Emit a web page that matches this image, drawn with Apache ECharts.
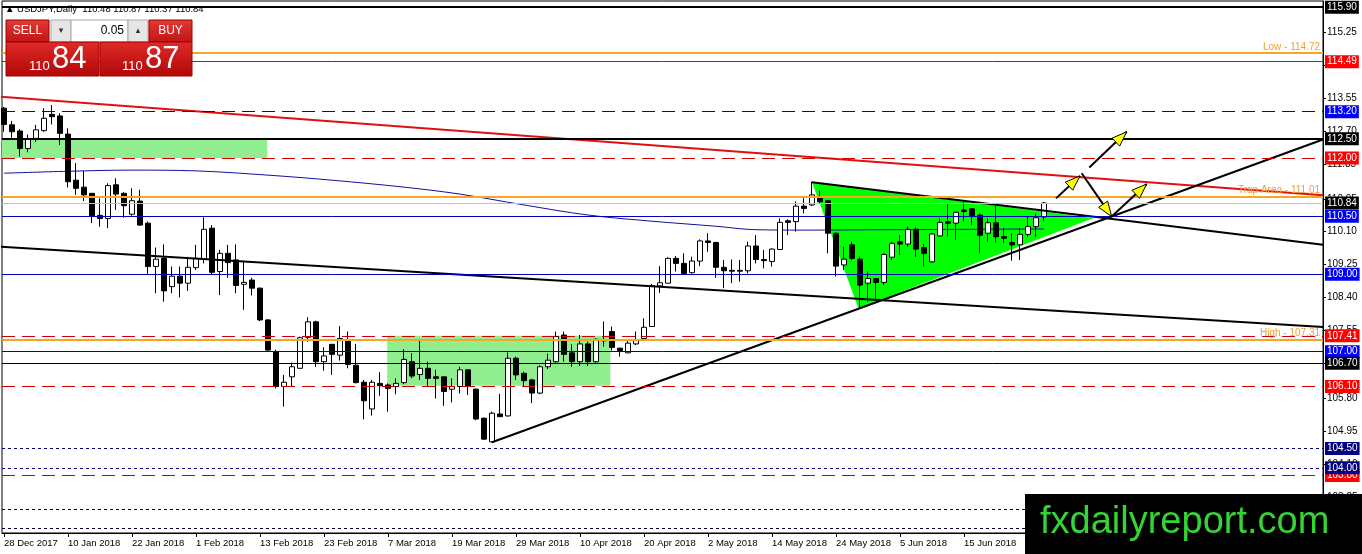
<!DOCTYPE html>
<html><head><meta charset="utf-8">
<script src="https://cdn.jsdelivr.net/npm/echarts@6/dist/echarts.min.js"></script>
<style>html,body{margin:0;padding:0;background:#fff;}#c{width:1362px;height:554px;}</style>
</head><body><div id="c"></div>
<script>
// ---------- DATA ----------
const dateLabels = ['28 Dec 2017','10 Jan 2018','22 Jan 2018','1 Feb 2018','13 Feb 2018','23 Feb 2018','7 Mar 2018','19 Mar 2018','29 Mar 2018','10 Apr 2018','20 Apr 2018','2 May 2018','14 May 2018','24 May 2018','5 Jun 2018','15 Jun 2018'];
const dateLabelBars = [0,8,16,24,32,40,48,56,64,72,80,88,96,104,112,120];
const priceTicks = [115.25,114.40,113.55,112.70,111.85,110.95,110.10,109.25,108.40,107.55,106.70,105.80,104.95,104.10,103.25];

const opens  = [113.29,112.86,112.70,112.25,112.51,112.71,113.13,113.09,112.62,111.43,111.25,111.09,110.52,110.44,111.31,111.09,110.55,110.89,110.32,109.20,109.41,108.68,108.95,108.77,109.17,109.39,110.19,109.07,109.54,109.37,108.74,108.85,108.64,107.82,107.00,106.10,106.35,106.57,107.37,107.77,106.74,107.19,106.91,107.30,106.65,106.21,105.52,106.18,106.14,106.10,106.20,106.74,106.41,106.57,106.35,106.35,106.03,106.10,106.53,106.03,105.28,104.67,105.39,105.34,106.83,106.44,106.27,105.93,106.61,106.74,107.43,106.97,106.74,107.20,106.74,107.30,107.52,107.09,106.97,107.20,107.34,107.65,108.70,108.77,109.41,109.28,109.04,109.34,109.86,109.82,109.18,109.10,109.10,109.09,109.73,109.38,109.33,109.64,110.38,110.36,110.76,110.79,110.99,110.90,110.06,109.24,109.76,109.39,108.77,108.89,108.79,109.44,109.84,109.78,110.16,109.69,109.32,109.99,110.36,110.32,110.66,110.69,110.53,110.06,110.33,109.97,109.82,109.76,110.03,110.23,110.48];
const highs  = [113.32,112.96,112.75,112.61,112.86,113.29,113.37,113.16,112.77,111.87,111.67,111.09,110.96,111.35,111.48,111.12,111.22,111.18,110.36,109.69,109.77,109.20,109.20,109.45,109.76,110.47,110.27,109.63,109.76,109.77,109.33,108.91,108.66,107.84,107.05,106.40,106.72,107.39,107.89,107.80,107.11,107.19,107.66,107.52,107.20,106.27,106.27,106.47,106.18,106.31,107.06,106.96,107.30,106.74,106.53,106.35,106.31,106.61,106.54,106.05,105.30,105.45,105.91,106.98,106.87,106.48,106.30,106.65,106.95,107.52,107.52,107.19,107.43,107.26,107.34,107.78,107.65,107.10,107.32,107.52,107.86,108.75,109.21,109.44,109.47,109.54,109.45,109.90,110.06,109.84,109.37,109.38,109.37,109.84,110.01,109.63,109.67,110.44,110.42,110.88,111.00,111.39,111.16,110.90,110.08,109.71,109.84,109.45,109.07,108.90,109.54,109.84,110.01,110.23,110.21,109.78,110.06,110.44,110.83,110.62,110.87,110.69,110.57,110.44,110.76,110.19,110.06,110.19,110.49,110.57,110.87];
const lows   = [112.68,112.47,112.04,112.15,112.42,112.68,112.87,112.34,111.24,111.05,110.89,110.32,110.23,110.19,110.66,110.46,110.51,110.25,108.98,108.51,108.29,108.51,108.40,108.57,109.11,109.28,108.98,108.46,108.91,108.51,108.08,108.45,107.79,106.99,106.05,105.58,106.10,106.56,107.26,106.61,106.51,106.40,106.77,106.57,106.18,105.25,105.35,105.86,105.45,105.90,106.16,106.31,106.27,106.10,105.79,105.60,105.69,105.92,105.88,105.23,104.72,104.65,105.32,105.32,106.27,106.10,105.67,105.90,106.55,106.70,106.74,106.61,106.63,106.63,106.70,107.13,107.03,106.87,106.96,107.17,107.30,107.65,108.52,108.77,109.07,108.98,109.01,109.21,109.58,108.91,108.64,108.77,108.81,109.02,109.28,109.15,109.20,109.63,110.01,110.10,110.57,110.76,110.83,109.54,108.94,109.11,109.37,108.12,108.29,108.33,108.72,109.37,109.50,109.71,109.45,109.20,109.30,109.97,109.97,109.89,110.36,110.27,109.54,109.84,109.82,109.80,109.35,109.37,109.97,109.97,110.37];
const closes = [112.87,112.68,112.25,112.49,112.73,113.03,113.07,112.64,111.39,111.22,111.05,110.51,110.44,111.29,111.07,110.77,110.90,110.27,109.20,109.39,108.57,108.95,108.77,109.18,109.41,110.16,109.05,109.54,109.30,108.71,108.79,108.64,107.82,107.04,106.10,106.21,106.61,107.36,107.77,106.74,106.89,106.93,107.34,106.67,106.20,105.73,106.21,106.12,106.05,106.18,106.80,106.37,106.57,106.31,106.31,105.97,106.10,106.53,106.10,105.26,104.74,105.41,105.32,106.83,106.40,106.25,105.93,106.61,106.78,107.39,106.93,106.74,107.20,106.74,107.32,107.28,107.11,107.03,107.22,107.30,107.63,108.70,108.78,109.41,109.28,109.01,109.34,109.86,109.82,109.18,109.09,109.08,109.08,109.73,109.38,109.35,109.65,110.34,110.34,110.76,110.70,111.05,110.87,110.06,109.21,109.39,109.41,108.72,108.89,108.79,109.51,109.80,109.78,110.16,109.65,109.54,110.04,110.34,110.32,110.60,110.62,110.51,110.01,110.33,109.97,109.93,109.76,110.03,110.23,110.46,110.84];

const maBars   = [0,8,16,24,33,41,50,57,65,73,81,89,94,100,110,120,130];
const maValues = [111.61,111.66,111.69,111.67,111.56,111.43,111.25,111.07,110.79,110.53,110.37,110.24,110.15,110.14,110.15,110.16,110.17];

const redTrend      = [[-0.5,113.59],[164.875,111.04]];
const longTrend     = [[-0.5,109.71],[164.875,107.64]];
const triangleUpper = [[101,111.375],[164.875,109.76]];
const risingTrend   = [[61,104.66],[164.875,112.48]];
const triangleZone  = [[101,111.375],[106.8,108.12],[136.2,110.45]];
const zoneBoxes     = [[[-0.5,112.50],[32.9,112.00]],[[47.9,107.41],[75.8,106.12]]];
const arrows        = [[131.5,110.96,134.5,111.54],[134.71,111.61,138.46,110.49],[138.46,110.49,142.84,111.33],[135.66,111.76,140.34,112.68]];

const blackSolidBoxed = [115.90,112.50];
const redSolidBoxed   = [114.49];
const blueDashedBoxed = [113.20];
const redDashedBoxed  = [112.00,107.41,106.10,103.80];
const blueSolidBoxed  = [110.50,109.00,107.00];
const blackThinBoxed  = [106.70];
const navyDottedBoxed = [104.50,104.00];
const dottedPlain     = [102.94,102.45];
const currentPrice    = 110.84;
const orangeLevels    = [114.72,111.01,107.31];
const orangeTexts     = ['Low - 114.72','Trap Area - 111.01','High - 107.31'];

// ---------- CHART ----------
const FONT = 'Liberation Sans';
const chart = echarts.init(document.getElementById('c'), null, {renderer:'canvas'});

function boxLabel(v, bg) {
  return {show:true, position:'end', distance:2, formatter:v.toFixed(2), backgroundColor:bg,
    color:'#fff', padding:[2,2,1,2], fontSize:10, fontFamily:FONT};
}
function lvl(v, color, type, width, bg) {
  return {yAxis:v, lineStyle:{color:color, type:type, width:width},
    label: bg ? boxLabel(v, bg) : {show:false}};
}
const DASH = [13,7];
const levelLines = [];
blackSolidBoxed.forEach(v => levelLines.push(lvl(v,'#000','solid',2,'#000')));
redSolidBoxed.forEach(v => levelLines.push(lvl(v,'#e00000','solid',1,'#ff0000')));
blueDashedBoxed.forEach(v => levelLines.push(lvl(v,'#0000c8',DASH,1,'#0000ff')));
redDashedBoxed.forEach(v => levelLines.push(lvl(v,'#d00000',DASH,1,'#ff0000')));
blueSolidBoxed.forEach(v => levelLines.push(lvl(v,'#0000c0','solid',1,'#0000ff')));
blackThinBoxed.forEach(v => levelLines.push(lvl(v,'#000','solid',1,'#000')));
navyDottedBoxed.forEach(v => levelLines.push(lvl(v,'#000080',[3,3],1,'#000080')));
dottedPlain.forEach(v => levelLines.push(lvl(v,'#000040',[3,3],1,null)));
levelLines.push(lvl(currentPrice,'#c0c0c0','solid',1,'#000'));
orangeLevels.forEach((v,i) => levelLines.push({yAxis:v, lineStyle:{color:'#f5a623',type:'solid',width:2},
  label:{show:true, position:'insideEndTop', distance:[3,1], formatter:orangeTexts[i], color:'#f0a030', fontSize:10, fontFamily:FONT}}));

function trend(pts, color, z) {
  return {type:'line', data:pts, symbol:'none', silent:true, animation:false, z:z,
    lineStyle:{color:color, width:2}, clip:true};
}

const candleData = opens.map((o,i) => [i, o, closes[i], lows[i], highs[i]]);

const option = {
  animation:false,
  grid:{left:2, right:39, top:1, bottom:21, show:true, borderColor:'#000', borderWidth:1, containLabel:false},
  xAxis:{type:'value', min:-0.25, max:164.875,
    axisLine:{show:true, onZero:false, lineStyle:{color:'#000', width:1}},
    axisTick:{show:true, customValues:dateLabelBars, length:4, lineStyle:{color:'#000'}},
    axisLabel:{show:true, customValues:dateLabelBars, align:'left', margin:5, color:'#000', fontSize:9.5, fontFamily:FONT,
      formatter: v => dateLabels[dateLabelBars.indexOf(Math.round(v))] || ''},
    splitLine:{show:false}},
  yAxis:{type:'value', position:'right', min:102.315, max:116.059, scale:true,
    axisLine:{show:true, onZero:false, lineStyle:{color:'#000', width:1}},
    axisTick:{show:true, customValues:priceTicks, length:3, lineStyle:{color:'#000'}},
    axisLabel:{show:true, customValues:priceTicks, margin:4, color:'#000', fontSize:10, fontFamily:FONT,
      formatter: v => v.toFixed(2)},
    splitLine:{show:false}},
  series:[
    {type:'line', data:[[0,110]], symbol:'none', lineStyle:{opacity:0}, silent:true, z:1,
      markArea:{silent:true, itemStyle:{color:'#90ee90', opacity:1},
        data: zoneBoxes.map(b => [{coord:b[0]},{coord:b[1]}])}},
    {type:'custom', silent:true, z:1, clip:true, data:[0],
      renderItem:(params, api) => ({type:'polygon',
        shape:{points: triangleZone.map(p => api.coord(p))},
        style:{fill:'#00ff00', stroke:null}})},
    {type:'line', data:[[0,110]], symbol:'none', lineStyle:{opacity:0}, silent:true, z:2,
      markLine:{silent:true, symbol:'none', animation:false, precision:2, data:levelLines}},
    {type:'line', data: maBars.map((b,i) => [b, maValues[i]]), smooth:0.35, symbol:'none', silent:true, z:2,
      lineStyle:{color:'#1010a0', width:1}},
    {type:'candlestick', data:candleData, encode:{x:0, y:[1,2,3,4]}, barWidth:5, z:3, silent:true,
      itemStyle:{color:'#ffffff', color0:'#000000', borderColor:'#000', borderColor0:'#000', borderColorDoji:'#000', borderWidth:1}},
    trend(redTrend, '#e01010', 4),
    trend(longTrend, '#000', 4),
    trend(triangleUpper, '#000', 4),
    trend(risingTrend, '#000', 4),
    {type:'custom', silent:true, z:6, clip:true,
      data: arrows, encode:{x:[0,2], y:[1,3]},
      renderItem:(params, api) => {
        const p1 = api.coord([api.value(0), api.value(1)]);
        const p2 = api.coord([api.value(2), api.value(3)]);
        const dx = p2[0]-p1[0], dy = p2[1]-p1[1];
        const len = Math.hypot(dx,dy), ux = dx/len, uy = dy/len;
        const hl = 15, hw = 5.5;
        const bx = p2[0]-ux*hl, by = p2[1]-uy*hl, nx = -uy, ny = ux;
        return {type:'group', children:[
          {type:'line', shape:{x1:p1[0],y1:p1[1],x2:p2[0],y2:p2[1]}, style:{stroke:'#000', lineWidth:2}},
          {type:'polygon', shape:{points:[[p2[0],p2[1]],[bx+nx*hw,by+ny*hw],[bx-nx*hw,by-ny*hw]]},
            style:{fill:'#ffff00', stroke:'#000', lineWidth:1}}
        ]};
      }}
  ],
  graphic:[
    {type:'text', left:5, top:4, z:100, style:{text:'\u25B2 USDJPY,Daily  110.48 110.87 110.37 110.84', fill:'#000', font:'9.5px "Liberation Sans"'}},
    // one-click panel
    {type:'rect', shape:{x:6,y:20,width:43,height:22}, z:100,
      style:{fill:{type:'linear',x:0,y:0,x2:0,y2:1,colorStops:[{offset:0,color:'#e23a36'},{offset:1,color:'#c01414'}]}, stroke:'#a00000', lineWidth:1}},
    {type:'text', x:27.5, y:31, z:101, style:{text:'SELL', fill:'#fff', font:'12px "Liberation Sans"', align:'center', verticalAlign:'middle'}},
    {type:'rect', shape:{x:51,y:20,width:20,height:22}, z:100, style:{fill:'#e6e6e6', stroke:'#a8a8a8', lineWidth:1}},
    {type:'text', x:61, y:31, z:101, style:{text:'\u25BE', fill:'#333', font:'9px "DejaVu Sans"', align:'center', verticalAlign:'middle'}},
    {type:'rect', shape:{x:71,y:20,width:57,height:22}, z:100, style:{fill:'#fff', stroke:'#a8a8a8', lineWidth:1}},
    {type:'text', x:124, y:31, z:101, style:{text:'0.05', fill:'#000', font:'12px "Liberation Sans"', align:'right', verticalAlign:'middle'}},
    {type:'rect', shape:{x:128,y:20,width:20,height:22}, z:100, style:{fill:'#e6e6e6', stroke:'#a8a8a8', lineWidth:1}},
    {type:'text', x:138, y:31, z:101, style:{text:'\u25B4', fill:'#333', font:'9px "DejaVu Sans"', align:'center', verticalAlign:'middle'}},
    {type:'rect', shape:{x:149,y:20,width:43,height:22}, z:100,
      style:{fill:{type:'linear',x:0,y:0,x2:0,y2:1,colorStops:[{offset:0,color:'#e23a36'},{offset:1,color:'#c01414'}]}, stroke:'#a00000', lineWidth:1}},
    {type:'text', x:170.5, y:31, z:101, style:{text:'BUY', fill:'#fff', font:'12px "Liberation Sans"', align:'center', verticalAlign:'middle'}},
    {type:'rect', shape:{x:6,y:42,width:93,height:34}, z:100,
      style:{fill:{type:'linear',x:0,y:0,x2:0,y2:1,colorStops:[{offset:0,color:'#e02a28'},{offset:1,color:'#b00808'}]}, stroke:'#a00000', lineWidth:1}},
    {type:'text', x:29, y:66, z:101, style:{text:'110', fill:'#fff', font:'13px "Liberation Sans"', verticalAlign:'middle'}},
    {type:'text', x:52, y:59, z:101, style:{text:'84', fill:'#fff', font:'31px "Liberation Sans"', verticalAlign:'middle'}},
    {type:'rect', shape:{x:100,y:42,width:92,height:34}, z:100,
      style:{fill:{type:'linear',x:0,y:0,x2:0,y2:1,colorStops:[{offset:0,color:'#e02a28'},{offset:1,color:'#b00808'}]}, stroke:'#a00000', lineWidth:1}},
    {type:'text', x:122, y:66, z:101, style:{text:'110', fill:'#fff', font:'13px "Liberation Sans"', verticalAlign:'middle'}},
    {type:'text', x:145, y:59, z:101, style:{text:'87', fill:'#fff', font:'31px "Liberation Sans"', verticalAlign:'middle'}},
    // watermark
    {type:'rect', shape:{x:1025,y:494,width:337,height:60}, z:200, style:{fill:'#000'}},
    {type:'text', x:1040, y:523, z:201, style:{text:'fxdailyreport.com', fill:'#35d335', font:'38px "Liberation Sans"', verticalAlign:'middle'}}
  ]
};
chart.setOption(option);
</script></body></html>
